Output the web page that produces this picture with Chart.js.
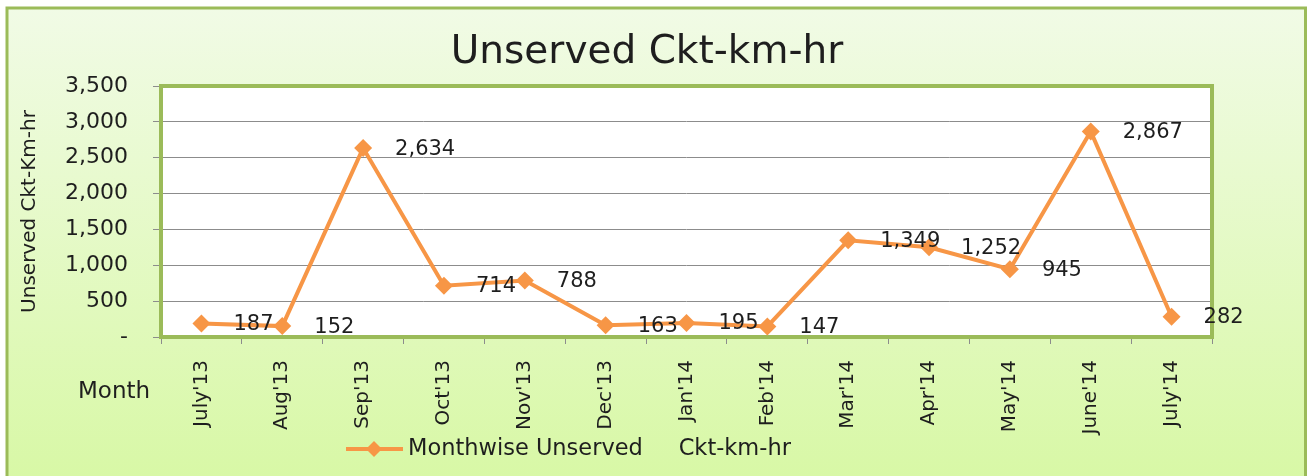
<!DOCTYPE html>
<html>
<head>
<meta charset="utf-8">
<script src="https://cdn.jsdelivr.net/npm/chart.js@4.4.1/dist/chart.umd.min.js"></script>
<style>
  html, body { margin: 0; padding: 0; background: #fff; }
  #wrap { width: 1310px; height: 476px; }
</style>
</head>
<body>
<div id="wrap"><canvas id="chart" width="1310" height="476"></canvas></div>
<script>
var months = ["July'13", "Aug'13", "Sep'13", "Oct'13", "Nov'13", "Dec'13", "Jan'14",
              "Feb'14", "Mar'14", "Apr'14", "May'14", "June'14", "July'14"];
var unserved = [187, 152, 2634, 714, 788, 163, 195, 147, 1349, 1252, 945, 2867, 282];
var yTicks = [0, 500, 1000, 1500, 2000, 2500, 3000, 3500];

var chartTitle = "Unserved Ckt-km-hr";
var yTitle = "Unserved Ckt-Km-hr";
var xTitle = "Month";
var seriesName = "Monthwise Unserved     Ckt-km-hr";

var FONT = "'DejaVu Sans', sans-serif";
var ORANGE = "#f79646";
var GREEN = "#9bbb59";
var TEXT = "#1e1e1e";

function fmt(v) {
    if (v === 0) return "-";
    return v.toLocaleString("en-US");
}

// backgrounds, borders, title, data labels, legend
var decor = {
    id: "decor",
    beforeDraw: function(chart) {
        var ctx = chart.ctx, a = chart.chartArea;
        ctx.save();
        ctx.fillStyle = "#ffffff";
        ctx.fillRect(0, 0, chart.width, chart.height);
        var g = ctx.createLinearGradient(0, 8, 0, chart.height);
        g.addColorStop(0, "#f1fbe6");
        g.addColorStop(1, "#d8f8a6");
        ctx.fillStyle = g;
        ctx.fillRect(7, 8, 1298, chart.height);
        ctx.strokeStyle = GREEN;
        ctx.lineWidth = 3;
        ctx.strokeRect(7, 8, 1298.5, chart.height + 10);
        ctx.fillStyle = "#ffffff";
        ctx.fillRect(a.left, a.top, a.right - a.left, a.bottom - a.top);

        ctx.fillStyle = TEXT;
        ctx.font = "39px " + FONT;
        ctx.textAlign = "center";
        ctx.textBaseline = "alphabetic";
        ctx.fillText(chartTitle, 647, 63);

        ctx.font = "23px " + FONT;
        ctx.textAlign = "left";
        ctx.textBaseline = "middle";
        ctx.fillText(xTitle, 78, 392);
        ctx.restore();
    },
    beforeDatasetsDraw: function(chart) {
        var ctx = chart.ctx, a = chart.chartArea;
        ctx.save();
        ctx.strokeStyle = GREEN;
        ctx.lineWidth = 4;
        ctx.strokeRect(a.left, a.top, a.right - a.left, a.bottom - a.top);
        ctx.restore();
    },
    afterDatasetsDraw: function(chart) {
        var ctx = chart.ctx;
        var meta = chart.getDatasetMeta(0);
        var ds = chart.data.datasets[0];
        ctx.save();
        ctx.fillStyle = TEXT;
        ctx.font = "21px " + FONT;
        ctx.textAlign = "left";
        ctx.textBaseline = "middle";
        meta.data.forEach(function(pt, i) {
            ctx.fillText(fmt(ds.data[i]), pt.x + 32, pt.y + 1);
        });

        // legend
        var ly = 449;
        ctx.strokeStyle = ds.borderColor;
        ctx.lineWidth = 4;
        ctx.beginPath();
        ctx.moveTo(346, ly);
        ctx.lineTo(403, ly);
        ctx.stroke();
        ctx.fillStyle = ds.backgroundColor;
        ctx.beginPath();
        ctx.moveTo(374, ly - 8); ctx.lineTo(382, ly); ctx.lineTo(374, ly + 8); ctx.lineTo(366, ly);
        ctx.closePath();
        ctx.fill();
        ctx.fillStyle = TEXT;
        ctx.font = "22.5px " + FONT;
        ctx.fillText(ds.label, 408, ly);
        ctx.restore();
    }
};

var data = {
    labels: months,
    datasets: [
        {
            label: seriesName,
            data: unserved,
            borderColor: ORANGE,
            backgroundColor: ORANGE,
            borderWidth: 4,
            lineTension: 0,
            pointStyle: "rectRot",
            pointRadius: 9,
            pointBorderWidth: 0,
            pointBackgroundColor: ORANGE,
            clip: false
        }
    ]
};

var myChart = new Chart(document.getElementById("chart"), {
    type: "line",
    data: data,
    plugins: [decor],
    options: {
        responsive: false,
        animation: false,
        events: [],
        layout: { padding: { top: 86, left: 10, right: 98, bottom: 39 } },
        plugins: {
            legend: { display: false },
            title: { display: false },
            tooltip: { enabled: false }
        },
        scales: {
            x: {
                offset: true,
                grid: { offset: true, drawOnChartArea: false, color: "#8c8c8c", tickLength: 7 },
                border: { display: false },
                ticks: {
                    autoSkip: false,
                    minRotation: 90,
                    maxRotation: 90,
                    padding: 16,
                    color: TEXT,
                    font: { family: FONT, size: 20 }
                },
                afterFit: function(scale) { scale.height = 100; }
            },
            y: {
                min: 0,
                max: 3500,
                afterBuildTicks: function(scale) {
                    scale.ticks = yTicks.map(function(v) { return { value: v }; });
                },
                grid: { color: "#8c8c8c", tickLength: 8 },
                border: { display: false },
                ticks: {
                    padding: 25,
                    color: TEXT,
                    font: { family: FONT, size: 22 },
                    callback: function(v) { return fmt(v); }
                },
                title: {
                    display: true,
                    text: yTitle,
                    color: TEXT,
                    font: { family: FONT, size: 20 },
                    padding: { top: 8, bottom: 0 }
                },
                afterFit: function(scale) { scale.width = 151; }
            }
        }
    }
});
</script>
</body>
</html>
